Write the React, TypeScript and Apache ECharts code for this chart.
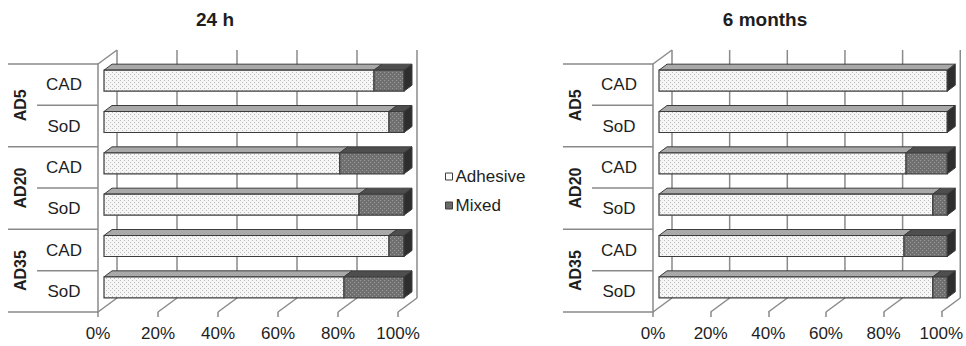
import React, { useEffect, useRef } from 'react';
import * as echarts from 'echarts';

const groups = ['AD5', 'AD20', 'AD35'];
const subgroups = ['CAD', 'SoD'];
const categories = ['AD5 CAD', 'AD5 SoD', 'AD20 CAD', 'AD20 SoD', 'AD35 CAD', 'AD35 SoD'];
const panelTitles = ['24 h', '6 months'];
const seriesNames = ['Adhesive', 'Mixed'];
const adhesive24h = [90, 95, 78.6, 85, 95, 80];
const mixed24h = [10, 5, 21.4, 15, 5, 20];
const adhesive6m = [100, 100, 85.7, 95, 85, 95];
const mixed6m = [0, 0, 14.3, 5, 15, 5];
const xTicks = [0, 20, 40, 60, 80, 100];

const FONT = '"Liberation Sans", Arial, Helvetica, sans-serif';
const GRID_COLOR = '#8a8a8a';
const TEXT = '#1e1e1e';
const DX = 19;
const DY = -14;
const BAR_OFF_X = 6;
const BAR_OFF_Y = -4;
const BAR_H = 21;
const TOP_DX = 8;
const TOP_DY = -6;

function makePattern(bg: string, dot: string) {
  const c = document.createElement('canvas');
  c.width = 4;
  c.height = 4;
  const ctx = c.getContext('2d')!;
  ctx.fillStyle = bg;
  ctx.fillRect(0, 0, 4, 4);
  ctx.fillStyle = dot;
  ctx.fillRect(0, 0, 1, 1);
  ctx.fillRect(2, 2, 1, 1);
  return { image: c, repeat: 'repeat', imageWidth: 4, imageHeight: 4 } as any;
}

export default function App() {
  const ref = useRef<HTMLDivElement>(null);
  useEffect(() => {
    if (!ref.current) return;
    const chart = echarts.init(ref.current, undefined, { renderer: 'svg' });
    const adhPattern = makePattern('#f6f6f6', '#bdbdbd');
    const mixPattern = makePattern('#707070', '#9a9a9a');

    const frameRender = (params: any, api: any) => {
      const v = api.value(0);
      const cs = params.coordSys;
      const x = api.coord([v, 0])[0];
      const top = cs.y;
      const bottom = cs.y + cs.height;
      const st = { stroke: GRID_COLOR, lineWidth: 1.5 };
      const children: any[] = [
        { type: 'line', shape: { x1: x + DX, y1: top + DY, x2: x + DX, y2: bottom + DY }, style: st },
        { type: 'line', shape: { x1: x, y1: bottom, x2: x + DX, y2: bottom + DY }, style: st },
      ];
      if (v === 0) {
        children.push({ type: 'line', shape: { x1: x, y1: top, x2: x + DX, y2: top + DY }, style: st });
      }
      return { type: 'group', children };
    };

    const tableRender = (params: any, api: any) => {
      const i = api.value(1);
      const cs = params.coordSys;
      const p = api.coord([0, i]);
      const band = api.size([0, 1])[1];
      const yTop = p[1] - band / 2;
      const yBottom = p[1] + band / 2;
      const axisX = cs.x;
      const st = { stroke: GRID_COLOR, lineWidth: 1.5 };
      const children: any[] = [];
      const groupEnd = i % 2 === 1;
      children.push({
        type: 'line',
        shape: { x1: axisX - (groupEnd ? 90 : 61), y1: yBottom, x2: axisX, y2: yBottom },
        style: st,
      });
      if (i === 0) {
        children.push({ type: 'line', shape: { x1: axisX - 90, y1: yTop, x2: axisX, y2: yTop }, style: st });
      }
      if (i % 2 === 0) {
        children.push({
          type: 'text',
          x: axisX - 78,
          y: yBottom,
          rotation: Math.PI / 2,
          style: {
            text: groups[i / 2],
            font: `bold 16px ${FONT}`,
            fill: TEXT,
            align: 'center',
            verticalAlign: 'middle',
          },
        });
      }
      return { type: 'group', children };
    };

    const barRender = (kind: number) => (params: any, api: any) => {
      const s = api.value(0);
      const e = api.value(1);
      const r = api.value(2);
      const p0 = api.coord([s, r]);
      const p1 = api.coord([e, r]);
      const x0 = p0[0] + BAR_OFF_X;
      const x1 = p1[0] + BAR_OFF_X;
      const yc = p0[1] + BAR_OFF_Y;
      const yt = yc - BAR_H / 2;
      const yb = yc + BAR_H / 2;
      const stroke = '#3c3c3c';
      const children: any[] = [
        {
          type: 'polygon',
          shape: { points: [[x0, yt], [x1, yt], [x1 + TOP_DX, yt + TOP_DY], [x0 + TOP_DX, yt + TOP_DY]] },
          style: { fill: kind === 0 ? '#a9a9a9' : '#4e4e4e', stroke, lineWidth: 1 },
        },
        {
          type: 'rect',
          shape: { x: x0, y: yt, width: x1 - x0, height: BAR_H },
          style: { fill: kind === 0 ? adhPattern : mixPattern, stroke, lineWidth: 1.2 },
        },
      ];
      if (e >= 99.99) {
        children.push({
          type: 'polygon',
          shape: { points: [[x1, yt], [x1 + TOP_DX, yt + TOP_DY], [x1 + TOP_DX, yb + TOP_DY], [x1, yb]] },
          style: { fill: '#2e2e2e', stroke, lineWidth: 1 },
        });
      }
      return { type: 'group', children };
    };

    const panels = [
      { left: 98, width: 300, adh: adhesive24h, mix: mixed24h },
      { left: 653, width: 293, adh: adhesive6m, mix: mixed6m },
    ];

    const grid: any[] = [];
    const xAxis: any[] = [];
    const yAxis: any[] = [];
    const series: any[] = [];

    panels.forEach((p, gi) => {
      grid.push({ left: p.left, width: p.width, top: 64, height: 248 });
      xAxis.push({
        type: 'value',
        gridIndex: gi,
        min: 0,
        max: 100,
        interval: 20,
        axisLine: { show: false },
        axisTick: { show: true, length: 5, lineStyle: { color: GRID_COLOR, width: 1.5 } },
        splitLine: { show: false },
        axisLabel: {
          formatter: '{value}%',
          fontSize: 17,
          fontFamily: FONT,
          color: TEXT,
          margin: 13,
        },
      });
      yAxis.push({
        type: 'category',
        gridIndex: gi,
        data: categories,
        inverse: true,
        axisLine: { show: true, lineStyle: { color: GRID_COLOR, width: 1.5 } },
        axisTick: { show: false },
        splitLine: { show: false },
        axisLabel: {
          formatter: (v: string) => {
            const sub = v.split(' ')[1];
            return subgroups.includes(sub) ? sub : v;
          },
          align: 'center',
          margin: 34,
          fontSize: 17,
          fontFamily: FONT,
          color: TEXT,
        },
      });
      series.push({
        type: 'custom',
        name: 'frame' + gi,
        xAxisIndex: gi,
        yAxisIndex: gi,
        renderItem: frameRender,
        data: xTicks.map((v) => [v, 0]),
        encode: { x: 0, y: 1 },
        z: 1,
        silent: true,
      });
      series.push({
        type: 'custom',
        name: 'table' + gi,
        xAxisIndex: gi,
        yAxisIndex: gi,
        renderItem: tableRender,
        data: categories.map((_, i) => [0, i]),
        encode: { x: 0, y: 1 },
        z: 1,
        silent: true,
      });
      series.push({
        type: 'custom',
        name: seriesNames[0],
        xAxisIndex: gi,
        yAxisIndex: gi,
        renderItem: barRender(0),
        itemStyle: { color: '#f6f6f6' },
        data: p.adh.map((a, i) => [0, a, i]),
        encode: { x: [0, 1], y: 2 },
        z: 3,
      });
      series.push({
        type: 'custom',
        name: seriesNames[1],
        xAxisIndex: gi,
        yAxisIndex: gi,
        renderItem: barRender(1),
        itemStyle: { color: '#707070' },
        data: p.mix
          .map((m, i) => [p.adh[i], p.adh[i] + m, i])
          .filter((d) => d[1] - d[0] > 0.01),
        encode: { x: [0, 1], y: 2 },
        z: 3,
      });
    });

    chart.setOption({
      animation: false,
      textStyle: { fontFamily: FONT },
      grid,
      xAxis,
      yAxis,
      series,
      legend: {
        orient: 'vertical',
        left: 440,
        top: 163,
        itemWidth: 7,
        itemHeight: 7,
        itemGap: 12,
        textStyle: { fontSize: 17, fontFamily: FONT, color: TEXT, padding: [0, 0, 0, -2] },
        selectedMode: false,
        data: [
          { name: seriesNames[0], icon: 'rect', itemStyle: { color: '#ffffff', borderColor: '#3c3c3c', borderWidth: 1 } },
          { name: seriesNames[1], icon: 'rect', itemStyle: { color: '#6a6a6a', borderColor: '#3c3c3c', borderWidth: 1 } },
        ],
      },
      graphic: [
        {
          type: 'text',
          x: 215,
          y: 19,
          style: { text: panelTitles[0], font: `bold 19px ${FONT}`, fill: TEXT, align: 'center', verticalAlign: 'middle' },
        },
        {
          type: 'text',
          x: 765,
          y: 19,
          style: { text: panelTitles[1], font: `bold 19px ${FONT}`, fill: TEXT, align: 'center', verticalAlign: 'middle' },
        },
      ],
    });
    return () => chart.dispose();
  }, []);
  return <div ref={ref} style={{ position: 'absolute', left: 0, top: 0, width: 966, height: 346 }} />;
}
